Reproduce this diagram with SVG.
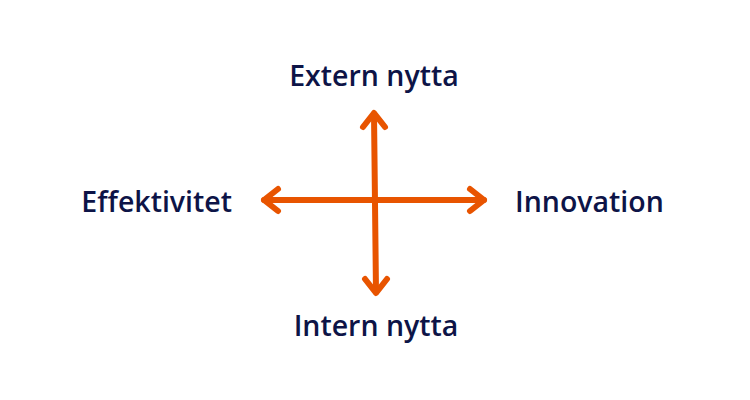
<svg xmlns="http://www.w3.org/2000/svg" width="750" height="400" viewBox="0 0 750 400">
<style>
.l{font-family:"Open Sans","Liberation Sans",sans-serif;font-weight:600;font-size:28.5px;fill:#0d1447}
.c{stroke:#e85400;stroke-width:6;stroke-linecap:round;stroke-linejoin:round;fill:none}
</style>
<rect width="750" height="400" fill="#fff"/>
<g id="connectors">
<path class="c" d="M374 114 L376 292"/>
<path class="c" d="M264 200 L484 200"/>
<path class="c" d="M363 127 L374 113 L385 127"/>
<path class="c" d="M365 279 L376 293 L387 279"/>
<path class="c" d="M278 189 L264 200 L278 211"/>
<path class="c" d="M470 189 L484 200 L470 211"/>
</g>
<g id="top"><text class="l" x="374" y="86" text-anchor="middle">Extern nytta</text></g>
<g id="left"><text class="l" x="232" y="212" text-anchor="end">Effektivitet</text></g>
<g id="right"><text class="l" x="515" y="212">Innovation</text></g>
<g id="bottom"><text class="l" x="376" y="336" text-anchor="middle">Intern nytta</text></g>
</svg>
